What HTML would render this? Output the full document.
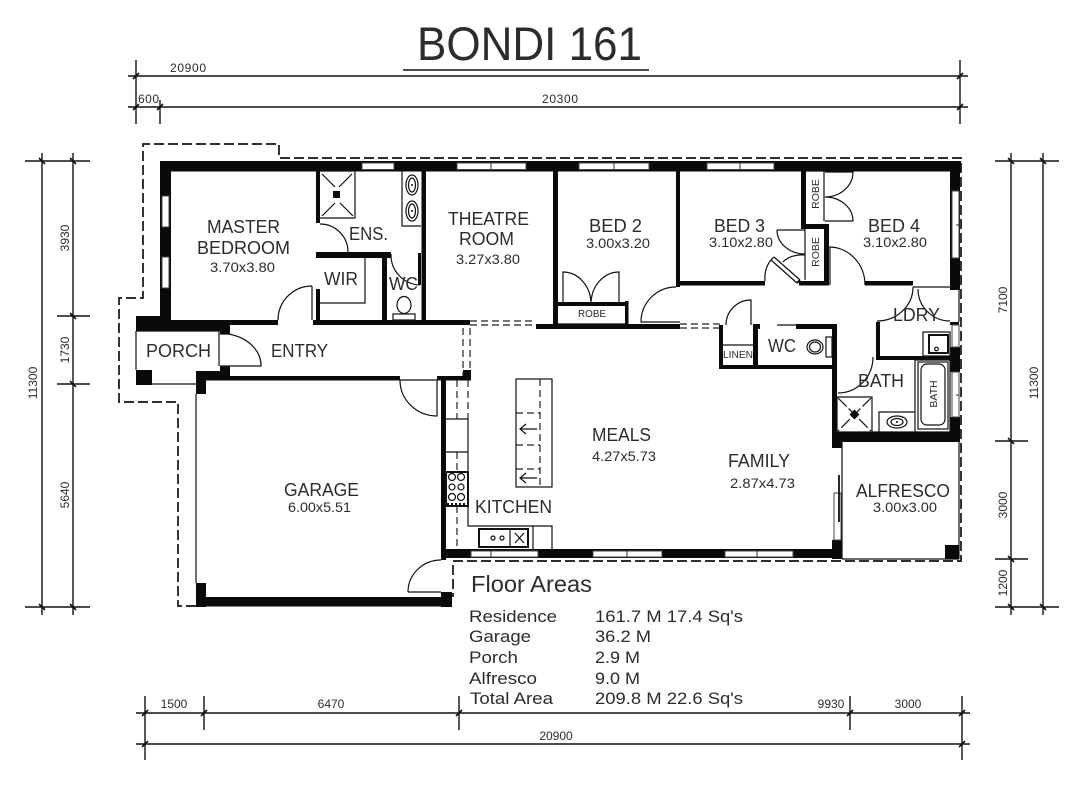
<!DOCTYPE html>
<html><head><meta charset="utf-8"><title>Bondi 161</title>
<style>
html,body{margin:0;padding:0;background:#fff}
svg{display:block}
text{font-family:"Liberation Sans",sans-serif;fill:#2c2c2c}
.r{font-size:18px}.d{font-size:14px}.s{font-size:12px}.t{font-size:10.5px}.f{font-size:17px}
.l{fill:none;stroke:#111;stroke-width:1.2}
.o{fill:none;stroke:#111;stroke-width:1.7;stroke-dasharray:10 4}
.k{fill:none;stroke:#222;stroke-width:1.2;stroke-dasharray:7 4}
.w{fill:#fff;stroke:#444;stroke-width:1}
.dm{fill:none;stroke:#111;stroke-width:1.4}
.tk{fill:none;stroke:#111;stroke-width:1.6}
</style></head><body>
<svg width="1085" height="785" viewBox="0 0 1085 785" xmlns="http://www.w3.org/2000/svg">
<rect width="1085" height="785" fill="#fff"/>

<!-- title -->
<text x="417" y="60" font-size="47" textLength="225" lengthAdjust="spacingAndGlyphs">BONDI 161</text>
<path d="M403 70H649" stroke="#111" stroke-width="1.6"/>

<!-- dimensions -->
<path class="dm" d="M128 76H968M128 107H968M136 60V124M160 100V124M960 60V124"/>
<path class="tk" d="M133 79l6-6M133 110l6-6M157 110l6-6M957 79l6-6M957 110l6-6"/>
<text class="s" x="170" y="72" textLength="36">20900</text>
<text class="s" x="138" y="103" textLength="21">600</text>
<text class="s" x="542" y="103" textLength="36">20300</text>

<path class="dm" d="M42 153V615M73 153V615M25 161H90M57 316H90M57 384H90M25 607H90"/>
<path class="tk" d="M39 158l6 6M70 158l6 6M70 313l6 6M70 381l6 6M39 604l6 6M70 604l6 6"/>
<text class="s" transform="translate(69,238) rotate(-90)" text-anchor="middle">3930</text>
<text class="s" transform="translate(69,350) rotate(-90)" text-anchor="middle">1730</text>
<text class="s" transform="translate(69,495) rotate(-90)" text-anchor="middle">5640</text>
<text class="s" transform="translate(37,383) rotate(-90)" text-anchor="middle">11300</text>

<path class="dm" d="M1011 153V615M1043 153V615M995 161H1059M995 441H1028M995 559H1028M995 607H1059"/>
<path class="tk" d="M1008 158l6 6M1040 158l6 6M1008 438l6 6M1008 556l6 6M1008 604l6 6M1040 604l6 6"/>
<text class="s" transform="translate(1007,300) rotate(-90)" text-anchor="middle">7100</text>
<text class="s" transform="translate(1007,505) rotate(-90)" text-anchor="middle">3000</text>
<text class="s" transform="translate(1007,583) rotate(-90)" text-anchor="middle">1200</text>
<text class="s" transform="translate(1038,383) rotate(-90)" text-anchor="middle">11300</text>

<path class="dm" d="M136 713H970M136 744H970M145 696V760M204 696V730M459 696V730M850 696V730M962 696V760"/>
<path class="tk" d="M142 716l6-6M201 716l6-6M456 716l6-6M847 716l6-6M959 716l6-6M142 747l6-6M959 747l6-6"/>
<text class="s" x="174" y="708" text-anchor="middle">1500</text>
<text class="s" x="331" y="708" text-anchor="middle">6470</text>
<text class="s" x="831" y="708" text-anchor="middle">9930</text>
<text class="s" x="908" y="708" text-anchor="middle">3000</text>
<text class="s" x="556" y="740" text-anchor="middle">20900</text>

<!-- roof outline -->
<path class="o" d="M196 606H178V402H119V298H143V144H279V158H961V561H453V597"/>

<!-- walls -->
<g fill="#0a0a0a">
<rect x="160" y="161" width="801" height="10.5"/>
<rect x="160" y="161" width="11" height="164"/>
<rect x="136" y="316" width="24" height="15"/>
<rect x="136" y="320" width="142" height="5"/>
<rect x="160" y="325" width="70" height="6"/>
<rect x="313" y="320" width="157" height="5"/>
<rect x="220" y="331" width="10" height="3"/>
<rect x="220" y="366" width="10" height="14"/>
<rect x="196" y="371" width="34" height="9"/>
<rect x="136" y="370" width="16" height="15"/>
<rect x="196" y="371" width="10" height="23"/>
<rect x="196" y="376" width="204" height="4.5"/>
<rect x="437" y="376" width="34" height="4.5"/>
<rect x="463" y="370" width="8" height="10"/>
<rect x="441" y="376" width="5" height="184"/>
<rect x="196" y="597" width="256" height="9.5"/>
<rect x="196" y="583" width="10" height="24"/>
<rect x="441" y="592" width="11" height="15"/>
<rect x="441" y="549" width="394" height="9"/>
<rect x="832" y="540" width="10" height="19"/>
<rect x="832" y="432" width="128" height="10"/>
<rect x="832" y="432" width="10" height="16"/>
<rect x="945" y="545" width="14" height="14"/>
<rect x="950" y="161" width="10" height="129"/>
<rect x="950" y="347" width="10" height="25"/>
<rect x="950" y="417" width="10" height="25"/>
<rect x="950" y="322" width="9" height="3"/>
<!-- interior -->
<rect x="421.5" y="171" width="4.5" height="150"/>
<rect x="316" y="171" width="4" height="52"/>
<rect x="316" y="252" width="75" height="6"/>
<rect x="316" y="289" width="4" height="31"/>
<rect x="382" y="255" width="5" height="65"/>
<rect x="418" y="253" width="3" height="32"/>
<rect x="553" y="171" width="5" height="154"/>
<rect x="536" y="324" width="144" height="5"/>
<rect x="676" y="171" width="4" height="116"/>
<rect x="676" y="281" width="89" height="4.5"/>
<rect x="801" y="171" width="5" height="58"/>
<rect x="806" y="224" width="23" height="5"/>
<rect x="824" y="224" width="5" height="61"/>
<rect x="799" y="281" width="30" height="4.5"/>
<rect x="865" y="281" width="48" height="4.5"/>
<rect x="557" y="302" width="71" height="4"/>
<rect x="625" y="301" width="3.5" height="24"/>
<rect x="719" y="325" width="4" height="44"/>
<rect x="719" y="365" width="118" height="4"/>
<rect x="753" y="325" width="5" height="44"/>
<rect x="753" y="324" width="7" height="5"/>
<rect x="796" y="324" width="41" height="5"/>
<rect x="832" y="324" width="5" height="124"/>
<rect x="876" y="322" width="4" height="38"/>
<rect x="876" y="356" width="75" height="4"/>
</g>

<!-- windows -->
<g class="w">
<rect x="362" y="163" width="32" height="6.5"/>
<rect x="457" y="163" width="69" height="6.5"/>
<rect x="579" y="163" width="70" height="6.5"/>
<rect x="707" y="163" width="67" height="6.5"/>
<rect x="162" y="196" width="7" height="31"/>
<rect x="162" y="257" width="7" height="31"/>
<rect x="952" y="191" width="7" height="67"/>
<rect x="952" y="372" width="7" height="45"/>
<rect x="952" y="325" width="7" height="22"/>
<rect x="471" y="551" width="67" height="6"/>
<rect x="593" y="551" width="69" height="6"/>
<rect x="725" y="551" width="68" height="6"/>
<rect x="834" y="493" width="7" height="47"/>
</g>
<path d="M491 551v6M627 551v6M757 551v6M491 163v6M614 163v6M740 163v6M956 225h3M956 395h3" stroke="#333" stroke-width="1"/>
<rect x="953" y="290" width="6" height="32" fill="#fff"/>
<path d="M839 475V522" stroke="#111" stroke-width="1.8"/>

<!-- thin lines -->
<path class="l" d="M136 331V370M136 331H219M219 331V366M152 384H196M196 394V583M400 380H437
M842 442V559M959 442V559M842 559H959M959 290V322M913 287H950
M355 171V218H320M365 258V303H320M402 171V226H421M320 171H355
M723 345H753M777 325H796M558 324H625
M805 229V280M824 171V221M806 171H824
M923 332H950V356H923ZM915 360V432M950 360V432M915 360H950M837 397H872V432H837ZM879 412H915V432H879ZM842 432H950"/>

<!-- doors -->
<path class="l" d="M320 224A28 28 0 0 1 348 252
M312 286V320M312 286A34 34 0 0 0 278 320
M391 254A30 30 0 0 0 420 285
M220 334H228A41 32 0 0 1 261 366H220
M400 380A37 36 0 0 0 437 416V380
M408 592A33 32 0 0 1 441 560M408 592H441
M563 304V272A28 32 0 0 1 591 304M619 304V272A28 32 0 0 0 591 304
M676 287A35 35 0 0 0 641 322H680
M751 325V300A25 25 0 0 0 726 325
M829 247A36 38 0 0 1 865 285M830 247V285
M825 172H853A28 25 0 0 1 825 197A28 24 0 0 1 853 221H825
M777 230H805M777 230A28 24 0 0 0 805 254M805 255A22 14 0 0 0 783 262
M774 257L800 280M771 260L797 283M765 281A20 25 0 0 1 774 257
M913 287A36 34 0 0 1 877 321M918 289A32 32 0 0 0 950 321
M873 357A35 36 0 0 1 838 393"/>
<path d="M800 280l-3 3" stroke="#111" stroke-width="2"/>

<!-- double dashes -->
<path class="k" d="M470 321H536M470 325H536M680 324H720M680 328H720M463 328V376M470 328V376"/>

<!-- shower, ensuite -->
<path d="M322 174l13 13M353 216l-13-13M352 174l-13 13M322 216l13-13" stroke="#111" stroke-width="1.2"/>
<rect x="333" y="191" width="7" height="7" fill="#0a0a0a"/>
<ellipse cx="412" cy="185" rx="6" ry="10" class="l"/><ellipse cx="412" cy="185" rx="3.5" ry="7" class="l"/>
<ellipse cx="412" cy="211" rx="6" ry="10" class="l"/><ellipse cx="412" cy="211" rx="3.5" ry="7" class="l"/>
<circle cx="412" cy="185" r="1" fill="#111"/><circle cx="412" cy="211" r="1" fill="#111"/>
<ellipse cx="404" cy="305" rx="7" ry="8.5" class="l" stroke-width="1.6"/>
<rect x="393" y="314" width="22" height="6" class="l"/>

<!-- WC2 -->
<ellipse cx="815" cy="347" rx="8" ry="7" class="l"/><ellipse cx="815" cy="347" rx="5.5" ry="5" class="l"/>
<rect x="826" y="337" width="6" height="20" class="l"/>
<!-- laundry tub -->
<rect x="929" y="335" width="19" height="18" fill="none" stroke="#111" stroke-width="2"/>
<circle cx="936.5" cy="349" r="1.8" class="l"/>
<!-- bath shower/basin/bath -->
<path d="M838 398L871 431M871 398L838 431" stroke="#111" stroke-width="1.2" stroke-dasharray="12 3"/>
<rect x="851" y="411" width="7" height="7" fill="#0a0a0a" transform="rotate(45 854.5 414.5)"/>
<ellipse cx="897" cy="422" rx="10" ry="6" class="l" stroke-width="1.8"/><ellipse cx="897" cy="422" rx="6" ry="3.5" class="l"/>
<circle cx="897" cy="422" r="1" fill="#111"/>
<rect x="918" y="362" width="30" height="67" class="l"/>
<rect x="921" y="364" width="24" height="61" rx="6" class="l"/>

<!-- kitchen -->
<path class="l" d="M468 419V526H552V549M446 419H468M446 452H468"/>
<path class="k" d="M468 380V419M457 380V419M457 452V472M457 506V549"/>
<rect x="446" y="472" width="22" height="34" fill="#fff" stroke="#111" stroke-width="2"/>
<g class="l"><circle cx="452" cy="477" r="3.5"/><circle cx="461" cy="477" r="3.5"/><circle cx="452" cy="487" r="3"/><circle cx="461" cy="487" r="3"/><circle cx="452" cy="497" r="3.5"/><circle cx="461" cy="497" r="3.5"/></g>
<path d="M447 504h20" stroke="#111" stroke-width="2" stroke-dasharray="2 2"/>
<rect x="479" y="529" width="49" height="18" fill="none" stroke="#111" stroke-width="2"/>
<path class="l" d="M510 529V547M533 526V549M515 533l9 10M524 533l-9 10"/>
<circle cx="493" cy="538" r="2" class="l"/><circle cx="502" cy="538" r="2" class="l"/>
<!-- island -->
<rect x="516" y="379" width="36" height="108" class="l"/>
<path class="k" d="M540 379V487M516 413H540M516 445H540M516 469H540"/>
<path class="l" d="M537 429H521M526 424L520 429L526 434M537 478H521M526 473L520 478L526 483"/>

<!-- room labels -->
<g class="r">
<text x="207" y="233" textLength="73" lengthAdjust="spacingAndGlyphs">MASTER</text>
<text x="197" y="254" textLength="93" lengthAdjust="spacingAndGlyphs">BEDROOM</text>
<text x="349" y="240" textLength="39" lengthAdjust="spacingAndGlyphs">ENS.</text>
<text x="324" y="285" textLength="34" lengthAdjust="spacingAndGlyphs">WIR</text>
<text x="389" y="290" textLength="29" lengthAdjust="spacingAndGlyphs">WC</text>
<text x="146" y="357" textLength="65" lengthAdjust="spacingAndGlyphs">PORCH</text>
<text x="271" y="357" textLength="57" lengthAdjust="spacingAndGlyphs">ENTRY</text>
<text x="448" y="225" textLength="81" lengthAdjust="spacingAndGlyphs">THEATRE</text>
<text x="459" y="245" textLength="55" lengthAdjust="spacingAndGlyphs">ROOM</text>
<text x="589" y="232" textLength="53" lengthAdjust="spacingAndGlyphs">BED 2</text>
<text x="714" y="232" textLength="51" lengthAdjust="spacingAndGlyphs">BED 3</text>
<text x="868" y="232" textLength="52" lengthAdjust="spacingAndGlyphs">BED 4</text>
<text x="768" y="352" textLength="28" lengthAdjust="spacingAndGlyphs">WC</text>
<text x="893" y="321" textLength="47" lengthAdjust="spacingAndGlyphs">LDRY</text>
<text x="858" y="387" textLength="46" lengthAdjust="spacingAndGlyphs">BATH</text>
<text x="592" y="441" textLength="59" lengthAdjust="spacingAndGlyphs">MEALS</text>
<text x="475" y="513" textLength="77" lengthAdjust="spacingAndGlyphs">KITCHEN</text>
<text x="728" y="467" textLength="62" lengthAdjust="spacingAndGlyphs">FAMILY</text>
<text x="856" y="497" textLength="94" lengthAdjust="spacingAndGlyphs">ALFRESCO</text>
<text x="284" y="496" textLength="75" lengthAdjust="spacingAndGlyphs">GARAGE</text>
</g>
<g class="d">
<text x="210" y="272" textLength="65" lengthAdjust="spacingAndGlyphs">3.70x3.80</text>
<text x="456" y="264" textLength="64" lengthAdjust="spacingAndGlyphs">3.27x3.80</text>
<text x="586" y="248" textLength="64" lengthAdjust="spacingAndGlyphs">3.00x3.20</text>
<text x="709" y="247" textLength="64" lengthAdjust="spacingAndGlyphs">3.10x2.80</text>
<text x="863" y="247" textLength="64" lengthAdjust="spacingAndGlyphs">3.10x2.80</text>
<text x="592" y="461" textLength="64" lengthAdjust="spacingAndGlyphs">4.27x5.73</text>
<text x="730" y="488" textLength="65" lengthAdjust="spacingAndGlyphs">2.87x4.73</text>
<text x="873" y="512" textLength="64" lengthAdjust="spacingAndGlyphs">3.00x3.00</text>
<text x="288" y="512" textLength="63" lengthAdjust="spacingAndGlyphs">6.00x5.51</text>
</g>
<g class="t">
<text x="578" y="317" textLength="28" lengthAdjust="spacingAndGlyphs">ROBE</text>
<text x="723" y="358" textLength="30" lengthAdjust="spacingAndGlyphs">LINEN</text>
<text transform="translate(819,194) rotate(-90)" text-anchor="middle">ROBE</text>
<text transform="translate(819,252) rotate(-90)" text-anchor="middle">ROBE</text>
<text transform="translate(937,394) rotate(-90)" text-anchor="middle">BATH</text>
</g>

<!-- floor areas -->
<text x="471" y="592" font-size="23" textLength="121" lengthAdjust="spacingAndGlyphs">Floor Areas</text>
<g class="f">
<text x="469" y="622" textLength="88" lengthAdjust="spacingAndGlyphs">Residence</text>
<text x="469" y="642" textLength="62" lengthAdjust="spacingAndGlyphs">Garage</text>
<text x="469" y="663" textLength="49" lengthAdjust="spacingAndGlyphs">Porch</text>
<text x="469" y="684" textLength="68" lengthAdjust="spacingAndGlyphs">Alfresco</text>
<text x="470" y="704" textLength="83" lengthAdjust="spacingAndGlyphs">Total Area</text>
<text x="595" y="622" textLength="148" lengthAdjust="spacingAndGlyphs">161.7 M 17.4 Sq's</text>
<text x="595" y="642" textLength="56" lengthAdjust="spacingAndGlyphs">36.2 M</text>
<text x="595" y="663" textLength="45" lengthAdjust="spacingAndGlyphs">2.9 M</text>
<text x="595" y="684" textLength="45" lengthAdjust="spacingAndGlyphs">9.0 M</text>
<text x="595" y="704" textLength="148" lengthAdjust="spacingAndGlyphs">209.8 M 22.6 Sq's</text>
</g>
</svg>
</body></html>
